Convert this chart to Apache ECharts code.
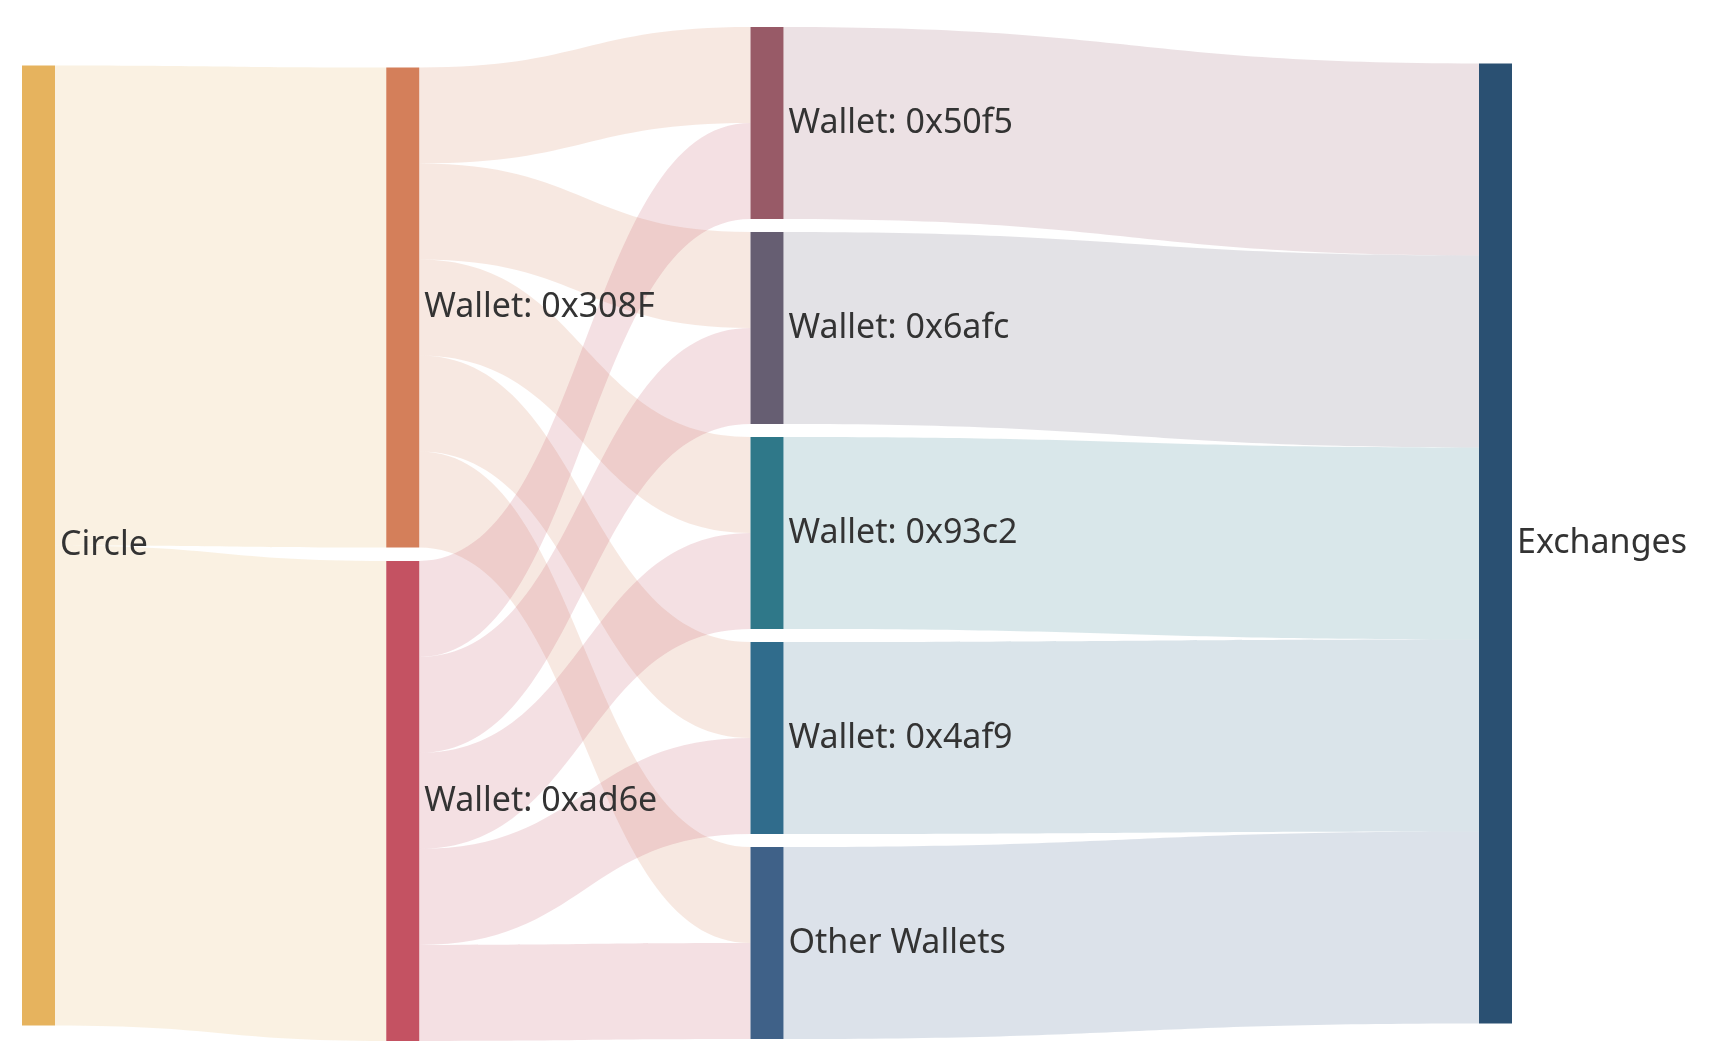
<!DOCTYPE html>
<html><head><meta charset="utf-8">
<script src="https://cdn.jsdelivr.net/npm/echarts@6/dist/echarts.min.js"></script>
<style>html,body{margin:0;padding:0;background:#fff}#c{width:1718px;height:1054px}</style>
</head><body><div id="c"></div>
<script>
const nodeNames = ['Circle','Wallet: 0x308F','Wallet: 0xad6e','Wallet: 0x50f5','Wallet: 0x6afc','Wallet: 0x93c2','Wallet: 0x4af9','Other Wallets','Exchanges'];
const nodeColors = ['#E6B35E','#D47F5A','#C45262','#985A67','#665E72','#2F7889','#306C8C','#3F6188','#2A5072'];
const nodeLayer = [0,1,1,2,2,2,2,2,3,4].slice(0,9);
nodeLayer[8]=4; nodeLayer[3]=nodeLayer[4]=nodeLayer[5]=nodeLayer[6]=nodeLayer[7]=2;
const nodeTopFrac = [0.038,0.04,0.5276,0,0.2026,0.4051,0.6077,0.8103,0.036];
const linkSources = ['Circle','Circle',
 'Wallet: 0x308F','Wallet: 0x308F','Wallet: 0x308F','Wallet: 0x308F','Wallet: 0x308F',
 'Wallet: 0xad6e','Wallet: 0xad6e','Wallet: 0xad6e','Wallet: 0xad6e','Wallet: 0xad6e',
 'Wallet: 0x50f5','Wallet: 0x6afc','Wallet: 0x93c2','Wallet: 0x4af9','Other Wallets'];
const linkTargets = ['Wallet: 0x308F','Wallet: 0xad6e',
 'Wallet: 0x50f5','Wallet: 0x6afc','Wallet: 0x93c2','Wallet: 0x4af9','Other Wallets',
 'Wallet: 0x50f5','Wallet: 0x6afc','Wallet: 0x93c2','Wallet: 0x4af9','Other Wallets',
 'Exchanges','Exchanges','Exchanges','Exchanges','Exchanges'];
const linkValues = [50,50,10,10,10,10,10,10,10,10,10,10,20,20,20,20,20];
const W = 1718-22-206, NW = 33;
const layerX = [0,1,2,3,4].map(k => k*(W-NW)/4/W);
const fixedLayer = [0,1,1,2,2,2,2,2,4];
const chart = echarts.init(document.getElementById('c'));
chart.setOption({
  animation:false,
  series:[{
    type:'sankey', left:22, right:206, top:27, bottom:15,
    nodeWidth:NW, nodeGap:13, layoutIterations:0, draggable:false,
    label:{fontSize:34, color:'#333', fontFamily:'Noto Sans'},
    lineStyle:{color:'source', opacity:0.18, curveness:0.5},
    data: nodeNames.map((n,i)=>({name:n, localX:layerX[fixedLayer[i]], localY:nodeTopFrac[i], itemStyle:{color:nodeColors[i]}})),
    links: linkValues.map((v,i)=>({source:linkSources[i], target:linkTargets[i], value:v}))
  }]
});
</script></body></html>
